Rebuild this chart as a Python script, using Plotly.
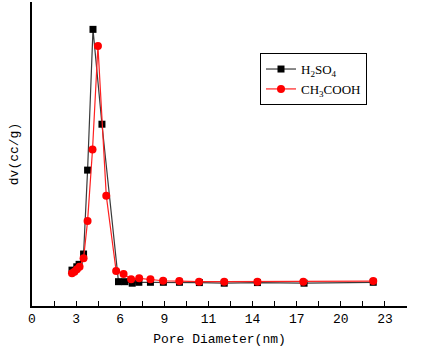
import plotly.graph_objects as go

# H2SO4 series
h2so4_x = [2.59, 2.90, 3.05, 3.34, 3.60, 3.95, 4.53, 5.60, 6.02, 6.49, 6.92, 7.67, 8.51, 9.55, 10.84, 12.45, 14.60, 17.62, 22.10]
h2so4_y = [0.118, 0.129, 0.137, 0.171, 0.447, 0.910, 0.598, 0.080, 0.080, 0.075, 0.078, 0.078, 0.078, 0.078, 0.077, 0.075, 0.077, 0.075, 0.078]

# CH3COOH series
ch3_x = [2.59, 2.75, 2.91, 3.08, 3.34, 3.60, 3.92, 4.27, 4.81, 5.45, 5.93, 6.42, 6.94, 7.67, 8.49, 9.54, 10.82, 12.45, 14.60, 17.57, 22.10]
ch3_y = [0.108, 0.113, 0.121, 0.129, 0.157, 0.280, 0.515, 0.855, 0.363, 0.115, 0.105, 0.088, 0.091, 0.088, 0.083, 0.082, 0.080, 0.080, 0.080, 0.080, 0.082]

# x tick positions (step 20/7) and their rounded labels
tick_step = 20 / 7
tick_vals = [i * tick_step for i in range(9)]
tick_text = ["0", "3", "6", "9", "11", "14", "17", "20", "23"]

fig = go.Figure()
fig.add_trace(go.Scatter(
    x=h2so4_x, y=h2so4_y, mode="lines+markers", name="H<sub>2</sub>SO<sub>4</sub>",
    line=dict(color="#3a3a3a", width=1.2),
    marker=dict(symbol="square", size=7, color="black"),
))
fig.add_trace(go.Scatter(
    x=ch3_x, y=ch3_y, mode="lines+markers", name="CH<sub>3</sub>COOH",
    line=dict(color="#ff2020", width=1.2),
    marker=dict(symbol="circle", size=8, color="#ff0000"),
))

fig.update_layout(
    width=432, height=357,
    margin=dict(l=32, r=25, t=2, b=51, autoexpand=False),
    paper_bgcolor="white", plot_bgcolor="white",
    showlegend=True,
    legend=dict(
        x=0.608, y=0.832, xanchor="left", yanchor="top",
        bordercolor="black", borderwidth=1, bgcolor="white",
        font=dict(family="Liberation Serif", size=13, color="black"),
        itemwidth=30, tracegroupgap=0,
    ),
    xaxis=dict(
        range=[0, 8.5 * tick_step],
        tickmode="array", tickvals=tick_vals, ticktext=tick_text,
        ticks="inside", ticklen=5, tickwidth=1, tickcolor="black",
        minor=dict(ticks="inside", ticklen=5, tickwidth=1, tickcolor="black", dtick=tick_step / 2, tick0=tick_step / 2),
        showline=True, linecolor="black", linewidth=1.5,
        showgrid=False, zeroline=False, automargin=False,
        tickfont=dict(family="Liberation Mono", size=13, color="black"),
        title=dict(text="Pore Diameter(nm)", font=dict(family="Liberation Mono", size=13, color="black"), standoff=8),
    ),
    yaxis=dict(
        range=[0, 1],
        showticklabels=False, ticks="",
        showline=True, linecolor="black", linewidth=1.5,
        showgrid=False, zeroline=False, automargin=False,
        title=dict(text="dv(cc/g)", font=dict(family="Liberation Mono", size=13, color="black"), standoff=9),
    ),
)

fig.write_html("out.html", config={"displayModeBar": False},
               post_script="document.body.style.margin='0';")
